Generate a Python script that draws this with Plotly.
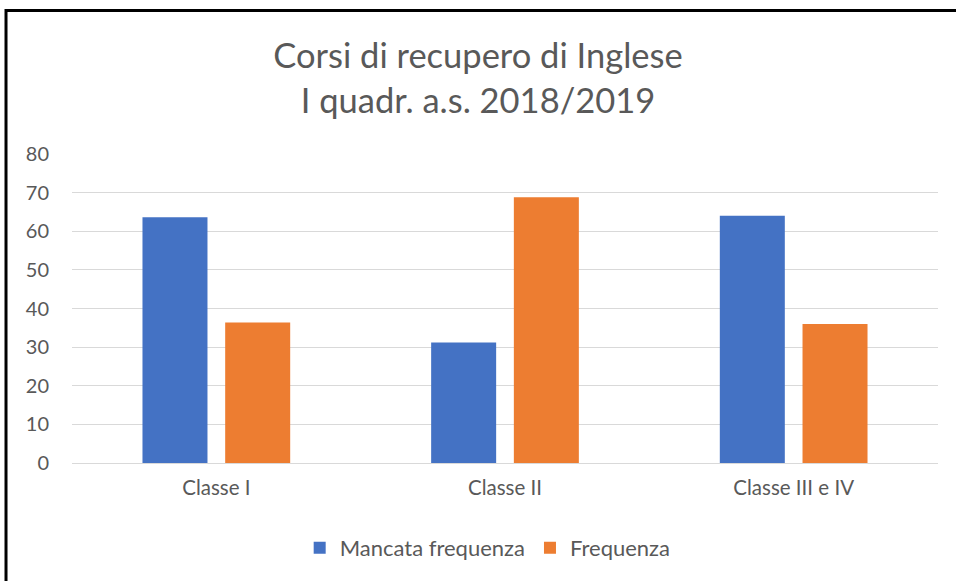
import plotly.graph_objects as go

categories = ["Classe I", "Classe II", "Classe III e IV"]
mancata = [63.6, 31.2, 64.0]
frequenza = [36.4, 68.8, 36.0]
series_names = ["Mancata frequenza", "Frequenza"]
tick_vals = [0, 10, 20, 30, 40, 50, 60, 70, 80]

FONT = "Lato"
GREY = "#595959"

fig = go.Figure()
fig.add_trace(go.Bar(x=categories, y=mancata, name=series_names[0],
                     marker=dict(color="#4472C4", line=dict(width=0))))
fig.add_trace(go.Bar(x=categories, y=frequenza, name=series_names[1],
                     marker=dict(color="#ED7D31", line=dict(width=0))))

fig.update_layout(
    width=956, height=581,
    paper_bgcolor="white", plot_bgcolor="white",
    margin=dict(l=72, r=18, t=154, b=118),
    barmode="group", bargap=0.427, bargroupgap=0.214,
    font=dict(family=FONT, color=GREY, size=20),
    title=dict(text="Corsi di recupero di Inglese<br>I quadr. a.s. 2018/2019",
               x=0.5, xanchor="center", y=0.883, yanchor="middle",
               font=dict(family=FONT, size=34.5, color=GREY)),
    showlegend=True,
    legend=dict(orientation="h", x=0.48, xanchor="center", y=-0.275, yanchor="middle",
                font=dict(size=22, color=GREY), traceorder="normal", itemwidth=30),
    xaxis=dict(showline=False, ticks="", tickfont=dict(size=20.5, color=GREY),
               ticklabelstandoff=10),
    yaxis=dict(range=[0, 80], tickvals=tick_vals, showgrid=True,
               gridcolor="#D9D9D9", gridwidth=1, zeroline=True,
               zerolinecolor="#D9D9D9", zerolinewidth=1, ticks="",
               tickfont=dict(size=20, color=GREY), ticklabelstandoff=22),
    shapes=[dict(type="rect", xref="paper", yref="paper",
                 x0=-0.0762, x1=1.2, y0=-0.6, y1=1.4645,
                 line=dict(color="black", width=3), layer="above")],
)

fig.write_html("out.html", config={"displayModeBar": False},
               post_script="document.body.style.margin='0';")
